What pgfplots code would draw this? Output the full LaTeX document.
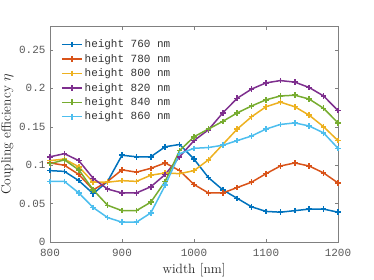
\documentclass[border=0pt]{standalone}
\usepackage{pgfplots}
\pgfplotsset{compat=1.18}
\usepackage{fontspec}
\setmonofont{Liberation Mono}
\definecolor{c1}{rgb}{0,0.447,0.741}
\definecolor{c2}{rgb}{0.850,0.325,0.098}
\definecolor{c3}{rgb}{0.929,0.694,0.125}
\definecolor{c4}{rgb}{0.494,0.184,0.556}
\definecolor{c5}{rgb}{0.466,0.674,0.188}
\definecolor{c6}{rgb}{0.301,0.745,0.933}
\begin{document}
\begin{tikzpicture}
\useasboundingbox (-50bp,-37.8bp) rectangle (324bp,242.2bp);
\begin{axis}[
  at={(0,0)}, anchor=south west,
  scale only axis, width=288bp, height=215.5bp,
  xmin=800, xmax=1200, ymin=0, ymax=0.28,
  xtick={800,900,1000,1100,1200},
  xticklabels={800,900,1000,1100,1200},
  ytick={0,0.05,0.1,0.15,0.2,0.25},
  yticklabels={0,0.05,0.1,0.15,0.2,0.25},
  tick pos=both, tick align=inside,
  major tick length=3bp,
  axis line style={black!50, line width=0.5bp},
  tick style={black!50, line width=0.5bp},
  every tick label/.append style={text=black!65, font=\ttfamily\fontsize{11}{13}\selectfont},
  xticklabel style={yshift=-3bp},
  yticklabel style={xshift=-1bp},
  xlabel={width [nm]},
  ylabel={Coupling efficiency $\eta$},
  label style={font=\fontsize{13.5}{16}\selectfont, text=black!85},
  xlabel style={yshift=0bp},
  ylabel style={yshift=-1bp},
  legend style={at={(0,1)}, anchor=north west, xshift=11bp, yshift=-11bp,
    inner sep=0pt, draw=none, fill=none,
    font=\ttfamily\fontsize{11}{13}\selectfont, text=black!80,
    row sep=1bp},
  legend cell align=left,
  legend image code/.code={\draw[mark repeat=2,mark phase=2,#1] plot coordinates {(0bp,0bp) (10bp,0bp) (20bp,0bp)};},
  every axis plot/.append style={line width=1.5bp, mark=+, mark size=2.8bp},
]
\addplot[c1] coordinates {(800,0.093)(820,0.092)(840,0.080)(860,0.063)(880,0.079)(900,0.113)(920,0.111)(940,0.111)(960,0.124)(980,0.127)(1000,0.108)(1020,0.084)(1040,0.068)(1060,0.057)(1080,0.046)(1100,0.040)(1120,0.039)(1140,0.041)(1160,0.043)(1180,0.043)(1200,0.039)};
\addplot[c2] coordinates {(800,0.103)(820,0.100)(840,0.088)(860,0.068)(880,0.079)(900,0.094)(920,0.091)(940,0.096)(960,0.103)(980,0.093)(1000,0.075)(1020,0.064)(1040,0.064)(1060,0.071)(1080,0.078)(1100,0.089)(1120,0.099)(1140,0.103)(1160,0.099)(1180,0.090)(1200,0.077)};
\addplot[c3] coordinates {(800,0.106)(820,0.108)(840,0.098)(860,0.078)(880,0.078)(900,0.080)(920,0.079)(940,0.087)(960,0.090)(980,0.089)(1000,0.093)(1020,0.107)(1040,0.127)(1060,0.147)(1080,0.163)(1100,0.176)(1120,0.182)(1140,0.176)(1160,0.165)(1180,0.150)(1200,0.132)};
\addplot[c4] coordinates {(800,0.111)(820,0.115)(840,0.106)(860,0.083)(880,0.069)(900,0.064)(920,0.064)(940,0.072)(960,0.088)(980,0.111)(1000,0.132)(1020,0.146)(1040,0.168)(1060,0.187)(1080,0.199)(1100,0.207)(1120,0.210)(1140,0.208)(1160,0.201)(1180,0.190)(1200,0.171)};
\addplot[c5] coordinates {(800,0.102)(820,0.107)(840,0.094)(860,0.068)(880,0.048)(900,0.041)(920,0.041)(940,0.052)(960,0.079)(980,0.119)(1000,0.137)(1020,0.147)(1040,0.157)(1060,0.168)(1080,0.177)(1100,0.185)(1120,0.190)(1140,0.191)(1160,0.186)(1180,0.174)(1200,0.155)};
\addplot[c6] coordinates {(800,0.079)(820,0.079)(840,0.064)(860,0.045)(880,0.032)(900,0.026)(920,0.026)(940,0.038)(960,0.074)(980,0.115)(1000,0.122)(1020,0.123)(1040,0.126)(1060,0.132)(1080,0.138)(1100,0.147)(1120,0.153)(1140,0.155)(1160,0.151)(1180,0.142)(1200,0.122)};
\legend{height 760 nm,height 780 nm,height 800 nm,height 820 nm,height 840 nm,height 860 nm}
\end{axis}
\end{tikzpicture}
\end{document}
